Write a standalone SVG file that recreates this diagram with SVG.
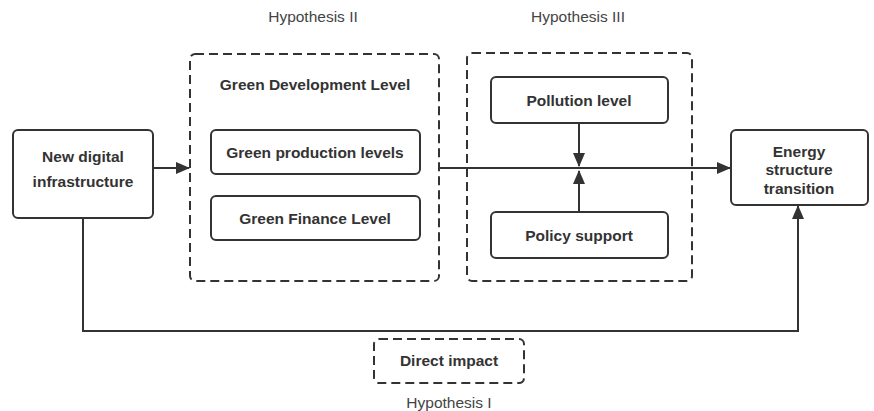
<svg xmlns="http://www.w3.org/2000/svg" width="874" height="411" viewBox="0 0 874 411">
<style>
.box{fill:#fff;stroke:#333;stroke-width:2}
.dash{fill:none;stroke:#333;stroke-width:2;stroke-dasharray:9 5}
.t{font-family:"Liberation Sans",Arial,sans-serif;font-size:15.5px;font-weight:bold;fill:#333;text-anchor:middle}
.h{font-family:"Liberation Sans",Arial,sans-serif;font-size:15.5px;fill:#444;text-anchor:middle}
.c{fill:none;stroke:#333;stroke-width:2}
</style>
<defs>
<marker id="ah2" markerWidth="14" markerHeight="14" refX="13" refY="7" orient="auto" markerUnits="userSpaceOnUse">
<path d="M0,1 L14,7 L0,13 Z" fill="#333"/>
</marker>
</defs>
<g id="hyp-labels">
<text class="h" x="313" y="22">Hypothesis  II</text>
<text class="h" x="578" y="22">Hypothesis III</text>
<text class="h" x="449" y="408">Hypothesis  I</text>
</g>
<g id="connectors">
<line class="c" x1="153" y1="168" x2="189" y2="168" marker-end="url(#ah2)"/>
<line class="c" x1="439" y1="168" x2="730" y2="168" marker-end="url(#ah2)"/>
<line class="c" x1="579" y1="123" x2="579" y2="166" marker-end="url(#ah2)"/>
<line class="c" x1="579" y1="212" x2="579" y2="171" marker-end="url(#ah2)"/>
<polyline class="c" points="83,218 83,331 798,331 798,206" marker-end="url(#ah2)"/>
</g>
<g id="new-digital">
<rect class="box" x="13" y="130" width="140" height="88" rx="5"/>
<text class="t" x="83" y="162">New digital</text>
<text class="t" x="83" y="187">infrastructure</text>
</g>
<g id="green-dev">
<rect class="dash" x="190" y="54" width="249" height="227" rx="5"/>
<text class="t" x="315" y="90">Green Development Level</text>
</g>
<g id="green-prod">
<rect class="box" x="211" y="130" width="209" height="44" rx="5"/>
<text class="t" x="315" y="158">Green production levels</text>
</g>
<g id="green-fin">
<rect class="box" x="211" y="196" width="209" height="44" rx="5"/>
<text class="t" x="315" y="224">Green Finance Level</text>
</g>
<g id="hyp3-box">
<rect class="dash" x="467" y="53" width="225" height="228" rx="5"/>
</g>
<g id="pollution">
<rect class="box" x="491" y="77" width="177" height="46" rx="5"/>
<text class="t" x="579" y="106">Pollution level</text>
</g>
<g id="policy">
<rect class="box" x="491" y="212" width="177" height="46" rx="5"/>
<text class="t" x="579" y="241">Policy support</text>
</g>
<g id="energy">
<rect class="box" x="731" y="130" width="137" height="75" rx="5"/>
<text class="t" x="799" y="157">Energy</text>
<text class="t" x="799" y="175">structure</text>
<text class="t" x="799" y="194">transition</text>
</g>
<g id="direct">
<rect class="dash" x="374" y="339" width="150" height="44" rx="5"/>
<text class="t" x="449" y="366">Direct impact</text>
</g>
</svg>
